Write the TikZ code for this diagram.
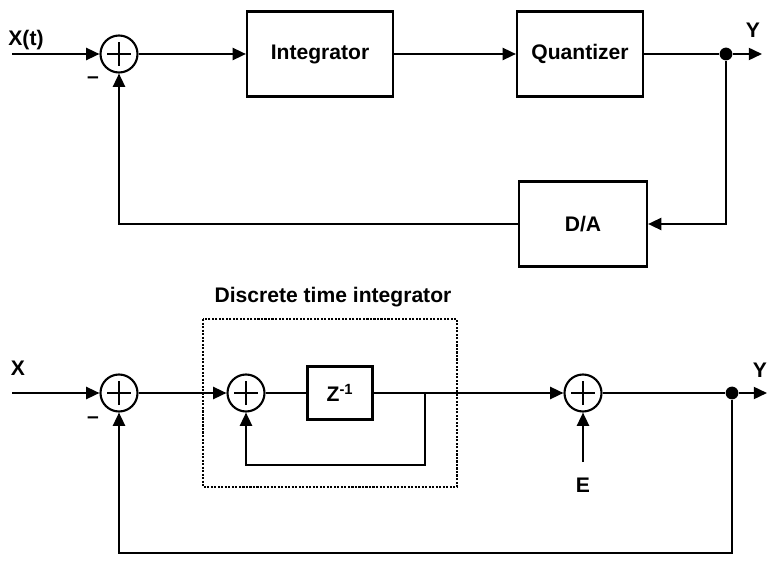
\documentclass[tikz,border=0pt]{standalone}
\usepackage{fontspec}
\setmainfont{Liberation Sans}
\usetikzlibrary{arrows.meta, calc}

\begin{document}
\begin{tikzpicture}[x=0.025cm, y=0.025cm, line width=1.5pt,
    >={Triangle[length=0.33cm, width=0.3cm]},
    font=\fontsize{15}{18}\selectfont\bfseries,
    blk/.style={draw, minimum height=2.125cm, inner sep=0pt},
    sum/.style={circle, draw, minimum size=0.925cm, inner sep=0pt},
    lbl/.style={inner sep=0pt},
    junc/.style={circle, fill, minimum size=0.32cm, inner sep=0pt},
    dotbox/.style={line width=1pt, dash pattern=on 1.5pt off 1pt}]
    \useasboundingbox (0,0) rectangle (768,560);
    % Continuous-time loop
    \node[lbl] (xt) at (26,520) {X(t)};
    \coordinate (xtin) at (12,506);
    \node[sum] (sa) at (119,506) {};
    \node[lbl] (ma) at (93,480) {–};
    \node[blk, minimum width=3.65cm] (integ) at (320,506) {Integrator};
    \node[blk, minimum width=3.15cm] (quant) at (580,506) {Quantizer};
    \node[junc] (ja) at (726,506) {};
    \coordinate (ya) at (762,506);
    \node[lbl] (yta) at (753,530) {Y};
    \node[blk, minimum width=3.2cm] (da) at (583,336) {D/A};
    \draw[->] (xtin) -- (sa);
    \draw[->] (sa) -- (integ);
    \draw[->] (integ) -- (quant);
    \draw (quant) -- (ja);
    \draw[->] (ja) -- (ya);
    \draw[->] (ja) |- (da);
    \draw[->] (da) -| (sa);
    % Discrete-time loop
    \node[lbl] (xb) at (18,192) {X};
    \coordinate (xbin) at (12,167);
    \node[sum] (sb) at (119,167) {};
    \node[lbl] (mb) at (93,140) {–};
    \draw[dotbox] (203,241) rectangle (457,73);
    \node[lbl] (dlbl) at (333,263) {Discrete time integrator};
    \node[sum] (sc) at (246,167) {};
    \node[blk, minimum width=1.625cm, minimum height=1.325cm] (zinv) at (340,167) {Z\textsuperscript{-1}};
    \coordinate (tap) at (425,167);
    \coordinate (lp) at (425,95);
    \node[sum] (sd) at (583,167) {};
    \node[lbl] (e) at (583,75) {E};
    \coordinate (ein) at (583,98);
    \node[junc] (jb) at (732,167) {};
    \coordinate (yb) at (767,167);
    \node[lbl] (ytb) at (760,190) {Y};
    \coordinate (fb) at (732,7);
    \draw[->] (xbin) -- (sb);
    \draw[->] (sb) -- (sc);
    \draw (sc) -- (zinv);
    \draw[->] (zinv.east) -- (tap) -- (lp) -| (sc);
    \draw[->] (tap) -- (sd);
    \draw[->] (ein) -- (sd);
    \draw (sd) -- (jb);
    \draw[->] (jb) -- (yb);
    \draw[->] (jb) -- (fb) -| (sb);
    % plus signs
    \foreach \s in {sa,sb,sc,sd} {
      \draw[line width=1.2pt] ($(\s)+(-12,0)$) -- ($(\s)+(12,0)$)
        ($(\s)+(0,-12)$) -- ($(\s)+(0,12)$);
    }
\end{tikzpicture}
\end{document}
